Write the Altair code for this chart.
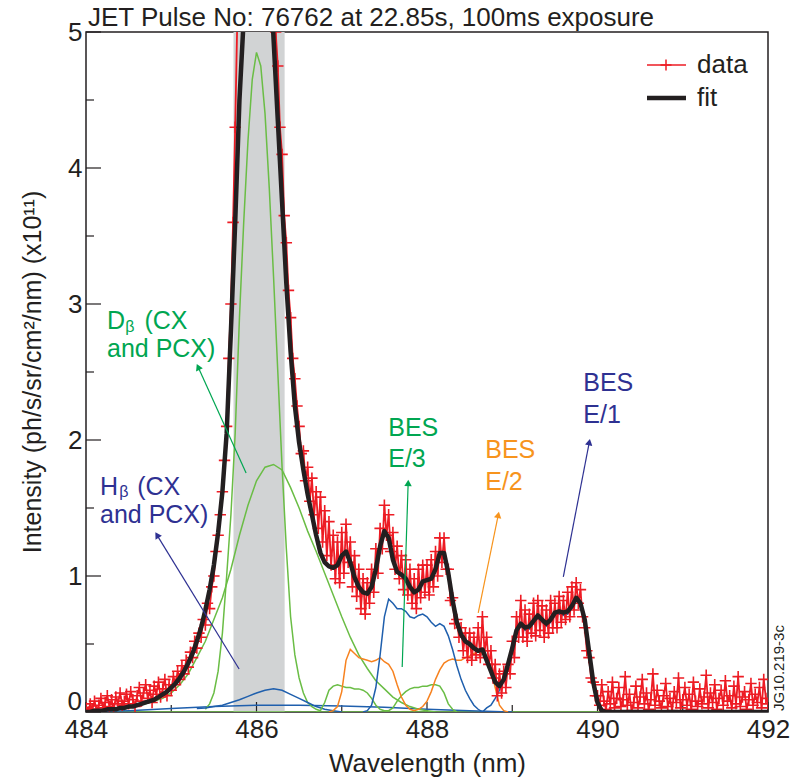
import numpy as np
import pandas as pd
import altair as alt

FONT = "Liberation Sans"
INK = "#231f20"
RED = "#ed1c24"
GREEN = "#6abd45"
GREEN_TXT = "#00a651"
BLUE = "#1f5fad"
NAVY = "#2e3192"
ORANGE = "#f7821f"
ORANGE_TXT = "#f7941d"
BAND = "#d1d3d4"

W, H = 682, 680

# ---- measured spectrum (red), sampled every 0.025 nm from 484.000 nm ----
data_start, data_step = 484.0, 0.025
data_y = [
    # 484.000 - 484.475
    0.03, 0.00, 0.06, 0.02, 0.08, 0.01, 0.05, 0.10, 0.03, 0.07,
    0.12, 0.04, 0.09, 0.02, 0.11, 0.06, 0.14, 0.05, 0.08, 0.13,
    # 484.500 - 484.975
    0.06, 0.15, 0.09, 0.04, 0.12, 0.18, 0.08, 0.14, 0.20, 0.10,
    0.16, 0.07, 0.19, 0.13, 0.22, 0.11, 0.17, 0.24, 0.12, 0.20,
    # 485.000 - 485.475
    0.16, 0.26, 0.20, 0.30, 0.24, 0.34, 0.28, 0.38, 0.33, 0.44,
    0.40, 0.52, 0.47, 0.58, 0.55, 0.68, 0.64, 0.80, 0.76, 0.92,
    # 485.500 - 485.975
    1.00, 1.18, 1.30, 1.45, 1.62, 1.85, 2.10, 2.60, 3.00, 3.60,
    4.30, 5.10, 5.80, 6.30, 6.70, 7.00, 7.20, 7.35, 7.45, 7.55,
    # 486.000 - 486.475
    7.55, 7.50, 7.40, 7.20, 6.90, 6.50, 6.30, 5.80, 5.30, 5.00,
    4.75, 4.30, 4.10, 3.65, 3.45, 3.10, 2.90, 2.60, 2.45, 2.25,
    # 486.500 - 486.975
    2.10, 1.90, 1.92, 1.70, 1.80, 1.55, 1.72, 1.45, 1.62, 1.35,
    1.58, 1.25, 1.48, 1.15, 1.40, 1.08, 1.30, 0.98, 1.25, 0.95,
    # 487.000 - 487.475
    1.32, 1.02, 1.38, 1.10, 1.25, 0.92, 1.15, 0.85, 1.05, 0.76,
    0.98, 0.72, 0.95, 0.80, 1.05, 0.88, 1.20, 1.02, 1.35, 1.20,
    # 487.500 - 487.975
    1.52, 1.30, 1.45, 1.18, 1.32, 1.05, 1.22, 0.98, 1.15, 0.90,
    1.12, 0.86, 1.05, 0.80, 0.98, 0.76, 1.05, 0.84, 1.08, 0.88,
    # 488.000 - 488.475
    1.08, 0.86, 1.12, 0.92, 1.18, 1.00, 1.28, 1.10, 1.28, 1.05,
    1.05, 0.82, 0.84, 0.65, 0.68, 0.55, 0.62, 0.45, 0.58, 0.40,
    # 488.500 - 488.975
    0.58, 0.38, 0.55, 0.42, 0.62, 0.40, 0.70, 0.45, 0.55, 0.35,
    0.45, 0.25, 0.35, 0.12, 0.28, 0.14, 0.30, 0.18, 0.35, 0.28,
    # 489.000 - 489.475
    0.52, 0.40, 0.70, 0.55, 0.82, 0.55, 0.75, 0.52, 0.72, 0.58,
    0.80, 0.56, 0.82, 0.60, 0.78, 0.55, 0.75, 0.58, 0.82, 0.62,
    # 489.500 - 489.975
    0.80, 0.62, 0.85, 0.66, 0.82, 0.68, 0.88, 0.70, 0.92, 0.75,
    0.95, 0.80, 0.90, 0.70, 0.62, 0.45, 0.40, 0.25, 0.22, 0.12,
    # 490.000 - 492.000
    0.12, 0.05, 0.20, 0.08, 0.02, 0.15, 0.06, 0.22, 0.03, 0.10,
    0.18, 0.04, 0.09, 0.26, 0.05, 0.13, 0.01, 0.07, 0.19, 0.03,
    0.11, 0.24, 0.06, 0.14, 0.02, 0.09, 0.28, 0.05, 0.16, 0.08,
    0.03, 0.12, 0.21, 0.04, 0.10, 0.01, 0.15, 0.07, 0.25, 0.03,
    0.09, 0.18, 0.05, 0.13, 0.02, 0.22, 0.08, 0.04, 0.17, 0.06,
    0.11, 0.27, 0.03, 0.14, 0.07, 0.20, 0.02, 0.10, 0.16, 0.05,
    0.23, 0.08, 0.12, 0.03, 0.19, 0.06, 0.26, 0.04, 0.11, 0.15,
    0.02, 0.09, 0.21, 0.05, 0.13, 0.07, 0.18, 0.03, 0.24, 0.10,
    0.06,
]

# ---- total fit (black), every 0.05 nm from 484.00 nm ----
fit_start, fit_step = 484.0, 0.05
fit_y = [
    0.00, 0.00, 0.01, 0.01, 0.01, 0.02, 0.02, 0.02, 0.03, 0.03,
    0.04, 0.04, 0.05, 0.06, 0.07, 0.08, 0.09, 0.11, 0.13, 0.15,
    0.18, 0.21, 0.25, 0.30, 0.36, 0.43, 0.52, 0.62, 0.75, 0.90,
    1.08, 1.32, 1.62, 2.05, 2.80, 3.60, 4.50, 5.10, 5.70, 6.20,
    6.50, 6.50, 6.20, 5.60, 4.95, 4.35, 3.75, 3.15, 2.65, 2.25,
    1.98, 1.78, 1.60, 1.45, 1.30, 1.17, 1.10, 1.07, 1.06, 1.08,
    1.15, 1.18, 1.10, 0.99, 0.92, 0.88, 0.87, 0.92, 1.05, 1.22,
    1.33, 1.28, 1.12, 1.03, 1.01, 0.98, 0.92, 0.88, 0.90, 0.96,
    0.97, 0.98, 1.05, 1.17, 1.17, 1.02, 0.82, 0.66, 0.57, 0.52,
    0.50, 0.47, 0.45, 0.46, 0.38, 0.30, 0.22, 0.19, 0.24, 0.35,
    0.47, 0.60, 0.65, 0.62, 0.63, 0.67, 0.71, 0.68, 0.65, 0.68,
    0.73, 0.74, 0.73, 0.74, 0.78, 0.84, 0.80, 0.68, 0.45, 0.22,
    0.07, 0.01, 0.00, 0.00, 0.00, 0.00, 0.00, 0.00, 0.00, 0.00,
    0.00, 0.00, 0.00, 0.00, 0.00, 0.00, 0.00, 0.00, 0.00, 0.00,
    0.00, 0.00, 0.00, 0.00, 0.00, 0.00, 0.00, 0.00, 0.00, 0.00,
    0.00, 0.00, 0.00, 0.00, 0.00, 0.00, 0.00, 0.00, 0.00, 0.00,
    0.00,
]

# ---- fitted components ----
d_narrow_y = [0.02, 0.06, 0.14, 0.30, 0.58, 1.00, 1.45, 2.05, 2.90, 3.60,
              4.20, 4.65, 4.85, 4.75, 4.40, 3.85, 3.20, 2.50, 1.80, 1.20,
              0.70, 0.42, 0.25, 0.14, 0.07, 0.04, 0.02, 0.01]
d_wide_y = [0.01, 0.02, 0.03, 0.05, 0.06, 0.08, 0.10, 0.14, 0.20, 0.28,
            0.40, 0.52, 0.68, 0.84, 1.05, 1.30, 1.52, 1.70, 1.80, 1.82,
            1.78, 1.65, 1.50, 1.33, 1.18, 1.02, 0.86, 0.70, 0.55, 0.42,
            0.32, 0.23, 0.17, 0.11, 0.07, 0.04, 0.02, 0.01, 0.00]
h_bump_y = [0.025, 0.03, 0.04, 0.05, 0.07, 0.09, 0.115, 0.14, 0.16, 0.17,
            0.16, 0.13, 0.10, 0.07, 0.04, 0.02, 0.01, 0.00]
h_flat_y = [0.00, 0.01, 0.025, 0.04, 0.05, 0.05, 0.045, 0.035, 0.02, 0.01, 0.00]
bes2_y = [0.00, 0.01, 0.04, 0.15, 0.38, 0.46, 0.43, 0.40, 0.39, 0.38,
          0.37, 0.38, 0.40, 0.37, 0.35, 0.30, 0.20, 0.11, 0.05, 0.02,
          0.01, 0.02, 0.04, 0.08, 0.15, 0.24, 0.31, 0.36, 0.38, 0.39,
          0.38, 0.38, 0.40, 0.41, 0.43, 0.44, 0.43, 0.40, 0.32, 0.18,
          0.05, 0.01, 0.00]
bes3_y = [0.00, 0.01, 0.07, 0.16, 0.19, 0.20, 0.19, 0.18, 0.18, 0.17,
          0.17, 0.16, 0.14, 0.10, 0.05, 0.02, 0.01, 0.01, 0.03, 0.08,
          0.12, 0.15, 0.17, 0.18, 0.18, 0.19, 0.19, 0.20, 0.20, 0.19,
          0.14, 0.06, 0.02, 0.00]
bes_blue_y = [0.00, 0.01, 0.05, 0.18, 0.42, 0.70, 0.83, 0.80, 0.76, 0.76,
              0.74, 0.70, 0.69, 0.71, 0.72, 0.70, 0.66, 0.63, 0.65, 0.63,
              0.56, 0.46, 0.34, 0.24, 0.16, 0.10, 0.05, 0.02, 0.00]
bes1_y = [0.00, 0.03, 0.05, 0.10, 0.16, 0.24, 0.33, 0.46, 0.58, 0.63,
          0.60, 0.61, 0.65, 0.69, 0.66, 0.63, 0.66, 0.71, 0.72, 0.71,
          0.72, 0.76, 0.82, 0.78, 0.66, 0.43, 0.20, 0.06, 0.01, 0.00,
          0.00]
baseline_x = [484.0, 492.0]
baseline_y = [0.0, 0.0]

components = [
    ("h_flat", 484.0, 0.5, h_flat_y, BLUE),
    ("d_wide", 484.3, 0.1, d_wide_y, GREEN),
    ("d_narrow", 485.4, 0.05, d_narrow_y, GREEN),
    ("h_bump", 485.3, 0.1, h_bump_y, BLUE),
    ("bes3", 486.7, 0.05, bes3_y, GREEN),
    ("bes2", 486.85, 0.05, bes2_y, ORANGE),
    ("bes_blue", 487.25, 0.05, bes_blue_y, BLUE),
    ("bes1", 488.65, 0.05, bes1_y, BLUE),
]

# shaded band (excluded region)
band_x0, band_x1 = [485.73], [486.33]

# tick labels / ticks
x_labels = [484, 486, 488, 490, 492]
y_labels = [1, 2, 3, 4, 5]
x_major = [484, 486, 488, 490, 492]
x_minor = [485, 487, 489, 491]
y_major = [0, 1, 2, 3, 4, 5]
y_minor = [0.5, 1.5, 2.5, 3.5, 4.5]

# annotation texts
ann_text = ["D", "β", "(CX", "and PCX)",
            "H", "β", "(CX", "and PCX)",
            "BES", "E/3", "BES", "E/2", "BES", "E/1"]
ann_x = [484.246, 484.46, 484.685, 484.246,
         484.164, 484.39, 484.60, 484.164,
         487.545, 487.545, 488.683, 488.683, 489.833, 489.833]
ann_y = [2.875, 2.831, 2.875, 2.669,
         1.654, 1.618, 1.654, 1.449,
         2.088, 1.860, 1.926, 1.691, 2.419, 2.184]
ann_size = [25, 16, 25, 25, 25, 16, 25, 25, 25, 25, 25, 25, 25, 25]
ann_color = [GREEN_TXT] * 4 + [NAVY] * 4 + [GREEN_TXT] * 2 + [ORANGE_TXT] * 2 + [NAVY] * 2

# arrows: tail -> head
arr_x0 = [485.878, 485.796, 487.709, 488.601, 489.599]
arr_y0 = [1.757, 0.316, 0.331, 0.728, 0.993]
arr_x1 = [485.315, 484.833, 487.779, 488.836, 489.904]
arr_y1 = [2.537, 1.301, 1.684, 1.449, 1.985]
arr_color = [GREEN_TXT, NAVY, GREEN_TXT, ORANGE_TXT, NAVY]


def grid(start, step, n):
    return np.round(start + step * np.arange(n), 3)


xs = alt.Scale(domain=[484, 492], nice=False, zero=False)
ys = alt.Scale(domain=[0, 5], nice=False, zero=False)

x_axis = alt.Axis(values=x_labels, format="d", ticks=False, domain=False, grid=False,
                  labelFontSize=26, labelFont=FONT, labelColor=INK, labelPadding=4,
                  labelFlush=False, title="Wavelength (nm)", titleFontSize=26,
                  titleFont=FONT, titleFontWeight="normal", titleColor=INK, titlePadding=8)
y_axis = alt.Axis(values=y_labels, format="d", ticks=False, domain=False, grid=False,
                  labelFontSize=26, labelFont=FONT, labelColor=INK, labelPadding=4,
                  labelFlush=False, title=None)


def X(f):
    return alt.X(f, type="quantitative", scale=xs, axis=x_axis)


def Y(f):
    return alt.Y(f, type="quantitative", scale=ys, axis=y_axis)


layers = []

band_df = pd.DataFrame({"x0": band_x0, "x1": band_x1})
layers.append(alt.Chart(band_df).mark_rect(color=BAND).encode(
    x=X("x0"), x2="x1", y=alt.value(0), y2=alt.value(H)))

# inward ticks
layers.append(alt.Chart(pd.DataFrame({"x": x_major})).mark_rule(color=INK, strokeWidth=1.2).encode(
    x=X("x"), y=alt.value(H), y2=alt.value(H - 10)))
layers.append(alt.Chart(pd.DataFrame({"x": x_minor})).mark_rule(color=INK, strokeWidth=1.2).encode(
    x=X("x"), y=alt.value(H), y2=alt.value(H - 7)))
layers.append(alt.Chart(pd.DataFrame({"y": y_major})).mark_rule(color=INK, strokeWidth=1.2).encode(
    y=Y("y"), x=alt.value(0), x2=alt.value(15)))
layers.append(alt.Chart(pd.DataFrame({"y": y_minor})).mark_rule(color=INK, strokeWidth=1.2).encode(
    y=Y("y"), x=alt.value(0), x2=alt.value(8)))

# components
layers.append(alt.Chart(pd.DataFrame({"x": baseline_x, "y": baseline_y})).mark_line(
    color=GREEN, strokeWidth=1.5, clip=True).encode(x=X("x"), y=Y("y")))
for name, st, sp, vals, col in components:
    df = pd.DataFrame({"x": grid(st, sp, len(vals)), "y": vals})
    layers.append(alt.Chart(df).mark_line(color=col, strokeWidth=1.5, clip=True).encode(
        x=X("x"), y=Y("y")))

# data
data_df = pd.DataFrame({"x": grid(data_start, data_step, len(data_y)), "y": data_y})
layers.append(alt.Chart(data_df).mark_line(color=RED, strokeWidth=1.8, clip=True).encode(
    x=X("x"), y=Y("y")))
PLUS = "M-1,0L1,0M0,-1L0,1"
layers.append(alt.Chart(data_df).mark_point(shape=PLUS, filled=False, size=130, color=RED,
                                             strokeWidth=1.6, opacity=1, clip=True).encode(
    x=X("x"), y=Y("y")))

# fit
fit_df = pd.DataFrame({"x": grid(fit_start, fit_step, len(fit_y)), "y": fit_y})
layers.append(alt.Chart(fit_df).mark_line(color=INK, strokeWidth=4.5, clip=True,
                                           strokeJoin="round").encode(x=X("x"), y=Y("y")))

# arrows
arr_df = pd.DataFrame({"x0": arr_x0, "y0": arr_y0, "x1": arr_x1, "y1": arr_y1, "c": arr_color})
px_per_nm = W / 8.0
px_per_unit = H / 5.0
arr_df["ang"] = (np.degrees(np.arctan2((arr_df.x1 - arr_df.x0) * px_per_nm,
                                       (arr_df.y1 - arr_df.y0) * px_per_unit)) + 360) % 360
layers.append(alt.Chart(arr_df).mark_rule(strokeWidth=1.2).encode(
    x=X("x0"), y=Y("y0"), x2="x1", y2="y1", color=alt.Color("c:N", scale=None)))
layers.append(alt.Chart(arr_df).mark_point(shape="triangle-up", filled=True, size=55, opacity=1).encode(
    x=X("x1"), y=Y("y1"), angle=alt.Angle("ang:Q", scale=None), color=alt.Color("c:N", scale=None)))

# annotation text
ann_df = pd.DataFrame({"x": ann_x, "y": ann_y, "t": ann_text, "c": ann_color, "s": ann_size})
layers.append(alt.Chart(ann_df).mark_text(align="left", baseline="middle", font=FONT).encode(
    x=X("x"), y=Y("y"), text="t:N", color=alt.Color("c:N", scale=None), size=alt.Size("s:Q", scale=None)))

# legend (drawn inside the frame, top right)
one = pd.DataFrame({"k": [0]})
layers.append(alt.Chart(one).mark_rule(color=RED, strokeWidth=1.5).encode(
    x=alt.value(561), x2=alt.value(600), y=alt.value(33)))
layers.append(alt.Chart(one).mark_point(shape=PLUS, filled=False, size=121, color=RED,
                                        strokeWidth=1.5, opacity=1).encode(
    x=alt.value(580), y=alt.value(33)))
layers.append(alt.Chart(one).mark_rule(color=INK, strokeWidth=4.5).encode(
    x=alt.value(561), x2=alt.value(600), y=alt.value(66)))
leg_df = pd.DataFrame({"t": ["data", "fit"], "py": [33, 66]})
layers.append(alt.Chart(leg_df).mark_text(align="left", baseline="middle", font=FONT,
                                          fontSize=26, color=INK).encode(
    x=alt.value(611), y=alt.Y("py:Q", scale=None), text="t:N"))

# "0" label on the y axis sits a little above its tick, clear of "484"
layers.append(alt.Chart(one).mark_text(align="right", baseline="middle", font=FONT,
                                       fontSize=26, color=INK, text="0").encode(
    x=alt.value(-4), y=alt.value(H - 10)))

# title, y title, figure id
layers.append(alt.Chart(one).mark_text(align="left", baseline="alphabetic", font=FONT,
                                       fontSize=26, color=INK,
                                       text="JET Pulse No: 76762 at 22.85s, 100ms exposure").encode(
    x=alt.value(2), y=alt.value(-6)))
layers.append(alt.Chart(one).mark_text(align="center", baseline="middle", font=FONT, angle=270,
                                       fontSize=25, color=INK,
                                       text="Intensity (ph/s/sr/cm²/nm) (x10¹¹)").encode(
    x=alt.value(-53), y=alt.value(H / 2)))
layers.append(alt.Chart(one).mark_text(align="center", baseline="middle", font=FONT, angle=270,
                                       fontSize=15, color=INK, text="JG10.219-3c").encode(
    x=alt.value(693), y=alt.value(636)))

chart = alt.layer(*layers).properties(
    width=W, height=H,
    autosize=alt.AutoSizeParams(type="none"),
    padding={"left": 86, "top": 32, "right": 22, "bottom": 70},
    background="white",
).configure_view(stroke=INK, strokeWidth=1.5)

chart.save("out.html", embed_options={"renderer": "svg", "actions": False})
